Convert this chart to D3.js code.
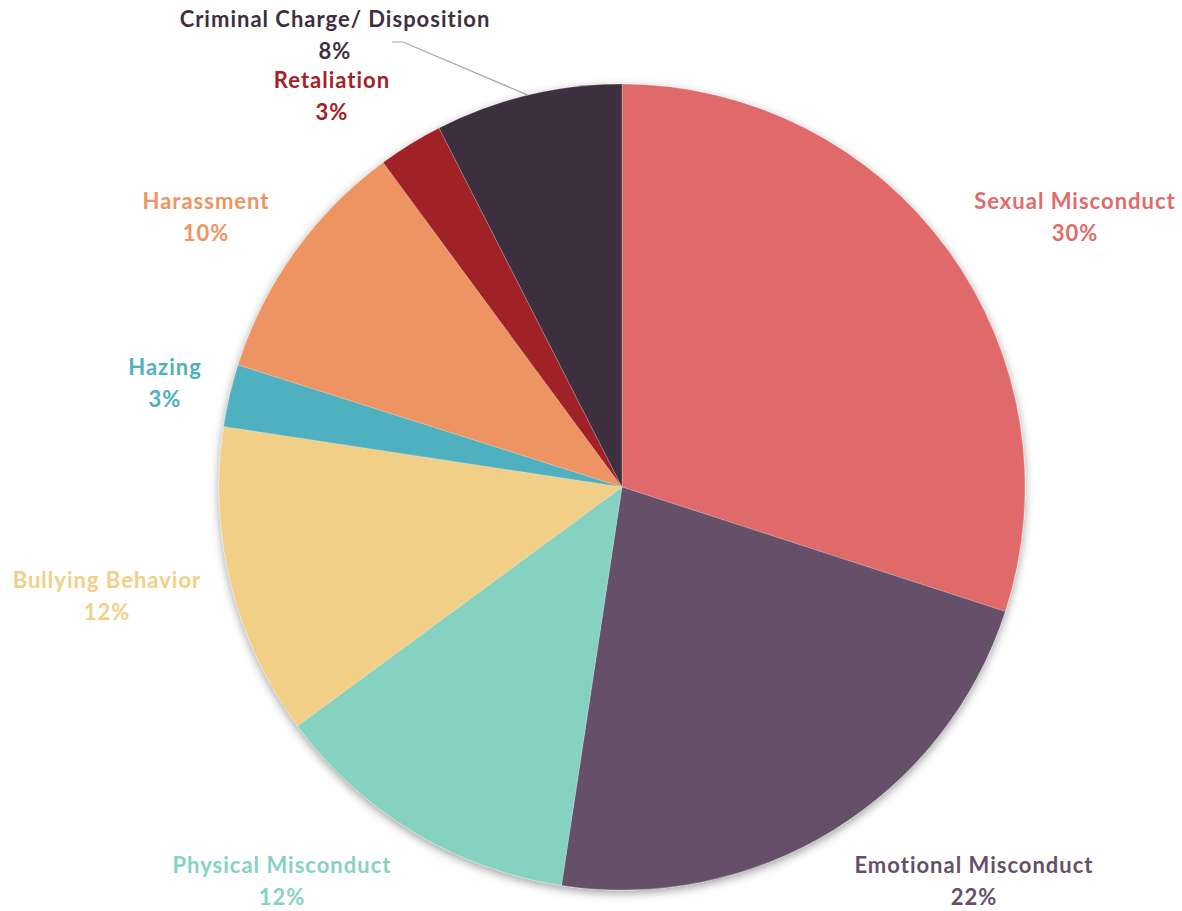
<!DOCTYPE html>
<html>
<head>
<meta charset="utf-8">
<script src="https://cdn.jsdelivr.net/npm/d3@7"></script>
<style>
  html, body { margin: 0; padding: 0; background: #fff; }
  svg { display: block; }
</style>
</head>
<body>
<svg id="chart" width="1182" height="911"></svg>
<script>
// ---- data ----
const categories = ["Sexual Misconduct", "Emotional Misconduct", "Physical Misconduct", "Bullying Behavior",
                    "Hazing", "Harassment", "Retaliation", "Criminal Charge/ Disposition"];
const values = [30.0, 22.4, 12.5, 12.5, 2.5, 10.0, 2.6, 7.5];
const pctLabels = ["30%", "22%", "12%", "12%", "3%", "10%", "3%", "8%"];
const colors = ["#E06B6A", "#654F69", "#86D2C1", "#F2CF87", "#4FB0C0", "#EE9462", "#A12225", "#3E2F3F"];

// ---- layout (label anchor points, px) ----
const labelPos = {
  "Sexual Misconduct": [1075, 201],
  "Emotional Misconduct": [974, 865],
  "Physical Misconduct": [282, 865],
  "Bullying Behavior": [107, 580],
  "Hazing": [165, 367],
  "Harassment": [206, 201],
  "Retaliation": [332, 80],
  "Criminal Charge/ Disposition": [335, 19]
};
const leaderCats = ["Criminal Charge/ Disposition"];

const svg = d3.select("#chart");
const cx = 622, cy = 487, r = 403;

const defs = svg.append("defs");
const f = defs.append("filter").attr("id", "shadow")
  .attr("x", "-10%").attr("y", "-10%").attr("width", "120%").attr("height", "120%");
f.append("feDropShadow").attr("dx", 0).attr("dy", 3).attr("stdDeviation", 5)
  .attr("flood-color", "#000").attr("flood-opacity", 0.38);

const data = categories.map((c, i) => ({ cat: c, value: values[i], pct: pctLabels[i], color: colors[i] }));

const pie = d3.pie().value(d => d.value).sort(null);
const arcs = pie(data);
const arc = d3.arc().innerRadius(0).outerRadius(r);

const g = svg.append("g").attr("transform", `translate(${cx},${cy})`);
g.append("g").attr("filter", "url(#shadow)")
  .selectAll("path").data(arcs).join("path")
  .attr("d", arc)
  .attr("fill", d => d.data.color)
  .attr("stroke", "rgba(255,255,255,0.35)")
  .attr("stroke-width", 0.6);

// leader lines
arcs.filter(a => leaderCats.includes(a.data.cat)).forEach(a => {
  const mid = (a.startAngle + a.endAngle) / 2;
  const ex = cx + r * Math.sin(mid), ey = cy - r * Math.cos(mid);
  const [lx, ly] = labelPos[a.data.cat];
  const sx = lx + 57, sy = ly + 23;
  svg.append("polyline")
    .attr("points", `${sx},${sy} ${sx + 11},${sy} ${ex},${ey}`)
    .attr("fill", "none").attr("stroke", "#A6A6A6").attr("stroke-width", 1.2);
});

// labels
const lab = svg.append("g")
  .attr("font-family", "Lato, 'Open Sans', sans-serif")
  .attr("font-weight", "bold")
  .attr("font-size", 22)
  .attr("letter-spacing", 1)
  .attr("text-anchor", "middle");
data.forEach(d => {
  const [x, y] = labelPos[d.cat];
  const t = lab.append("text").attr("fill", d.color);
  t.append("tspan").attr("x", x).attr("y", y + 8).text(d.cat);
  t.append("tspan").attr("x", x).attr("y", y + 40).text(d.pct);
});
</script>
</body>
</html>
